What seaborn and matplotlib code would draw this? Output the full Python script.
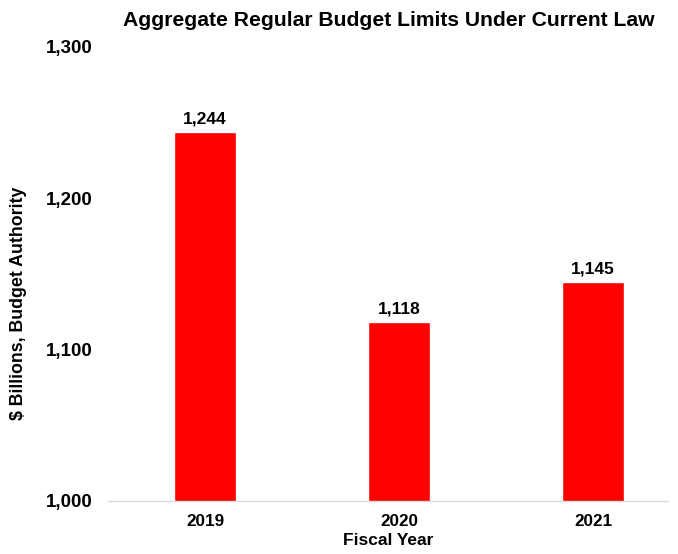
import matplotlib
matplotlib.use("Agg")
import matplotlib.pyplot as plt
import seaborn as sns
import pandas as pd

years = ["2019", "2020", "2021"]
values = [1244, 1118, 1145]
yticks = [1000, 1100, 1200, 1300]

sns.set_theme(style="white")
plt.rcParams['font.family'] = ['Liberation Sans', 'DejaVu Sans']
plt.rcParams['font.weight'] = 'bold'
plt.rcParams['text.color'] = 'black'
plt.rcParams['axes.labelcolor'] = 'black'
plt.rcParams['xtick.color'] = 'black'
plt.rcParams['ytick.color'] = 'black'

df = pd.DataFrame({"year": years, "value": values})

fig = plt.figure(figsize=(6.78, 5.54), dpi=100)
ax = fig.add_axes([108/678, 1 - 501/554, (668-108)/678, (501-47)/554])

sns.barplot(data=df, x="year", y="value", color="#FF0000", saturation=1,
            width=0.315, ax=ax)

ax.set_ylim(1000, 1300)
ax.set_xlim(-0.5, 2 + (668-593)/194)
ax.set_yticks(yticks)
ax.set_yticklabels([f"{v:,}" for v in yticks], fontsize=13.5, fontweight='bold')
ax.set_xticks(range(len(years)))
ax.set_xticklabels(years, fontsize=12.3, fontweight='bold')
ax.tick_params(axis='y', length=0, pad=11)
ax.tick_params(axis='x', length=0, pad=9)

for s in ['top', 'right', 'left']:
    ax.spines[s].set_visible(False)
ax.spines['bottom'].set_color('#D9D9D9')
ax.spines['bottom'].set_linewidth(1)

for i, v in enumerate(values):
    ax.annotate(f"{v:,}", (i, v), xytext=(0, 4), textcoords='offset points',
                ha='center', va='bottom', fontsize=12.5, fontweight='bold')

ax.set_xlabel("Fiscal Year", fontsize=12.5, fontweight='bold', labelpad=3)
ax.set_ylabel("$ Billions, Budget Authority", fontsize=12.8, fontweight='bold')
ax.yaxis.set_label_coords(-(108-27)/560, (501-303)/454)

fig.text(389/678, 1 - 21/554, "Aggregate Regular Budget Limits Under Current Law",
         ha='center', va='center', fontsize=15.2, fontweight='bold')

fig.savefig("out.png", dpi=100)
